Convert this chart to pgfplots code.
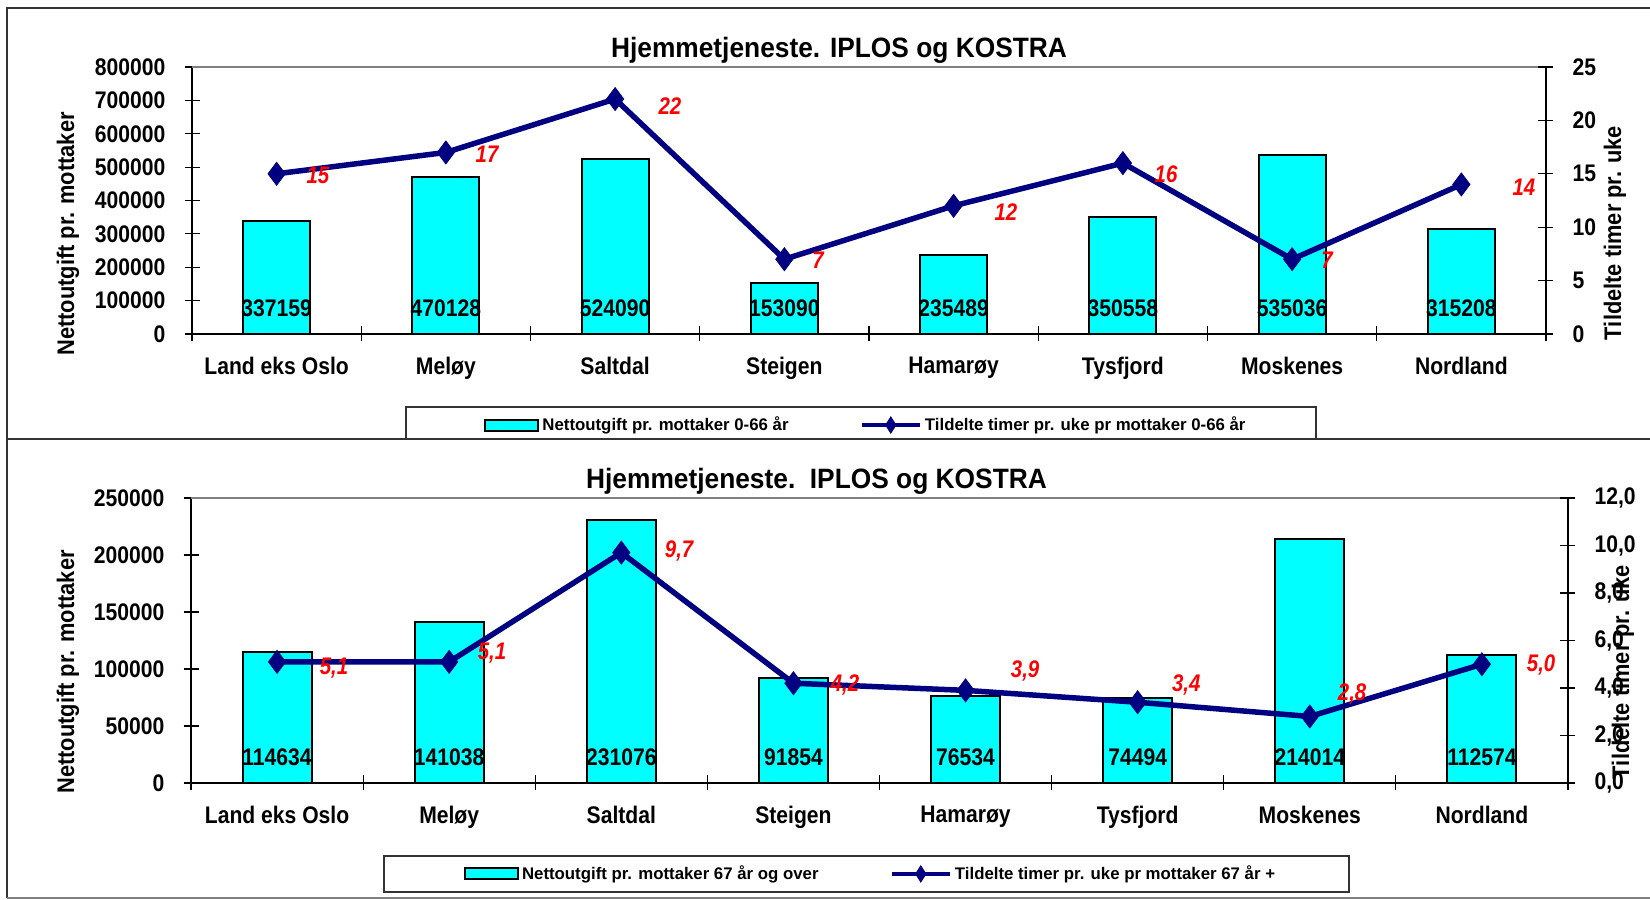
\documentclass[border=0pt]{standalone}
\usepackage{fontspec}
\setmainfont{Liberation Sans}
\newfontfamily\tickfont{Liberation Sans}[FakeStretch=0.88]
\newfontfamily\labfont{Liberation Sans}[FakeStretch=0.91]
\newfontfamily\titfont{Liberation Sans}[FakeStretch=0.94]
\newfontfamily\redfont{Liberation Sans}[FakeStretch=0.85]
\usepackage{pgfplots}
\pgfplotsset{compat=1.18}
\usepackage{pgfplotstable}
\definecolor{navyc}{RGB}{0,0,128}
\definecolor{cyanc}{RGB}{0,255,255}
\definecolor{redc}{RGB}{255,0,0}
\definecolor{frameg}{RGB}{128,128,128}

\pgfplotstableread{
x bar line lbl lx ly
0 337159 15 15 0.244 14.89
1 470128 17 17 1.243 16.85
2 524090 22 22 2.324 21.35
3 153090 7 7 3.199 6.93
4 235489 12 12 4.309 11.42
5 350558 16 16 5.255 14.98
6 535036 7 7 6.206 6.93
7 315208 14 14 7.370 13.76
}\topdata

\pgfplotstableread{
x bar line lbl lx ly
0 114634 5.1 5,1 0.331 4.84
1 141038 5.1 5,1 1.249 5.47
2 231076 9.7 9,7 2.336 9.77
3 91854 4.2 4,2 3.300 4.13
4 76534 3.9 3,9 4.346 4.72
5 74494 3.4 3,4 5.282 4.13
6 214014 2.8 2,8 6.246 3.75
7 112574 5.0 5,0 7.344 4.97
}\botdata

\newcommand\tickf{\tickfont\bfseries\fontsize{12}{14}\selectfont}
\newcommand\labf{\labfont\bfseries\fontsize{12}{14}\selectfont}
\newcommand\titf{\titfont\bfseries\fontsize{14}{16}\selectfont}
\newcommand\redf{\redfont\bfseries\itshape\fontsize{12}{14}\selectfont}
\newcommand\legf{\bfseries\fontsize{8.4}{10}\selectfont}

\pgfplotsset{
  mybase/.style={
    anchor=south west, scale only axis, xmin=-0.5, xmax=7.5, clip=false,
    scaled y ticks=false,
    tick align=center, major tick length=7.5pt,
    tick style={black, line width=0.6pt},
    axis line style={black, line width=0.6pt},
    ticklabel style={font=\tickf},
  },
  myleft/.style={
    mybase,
    axis y line*=left, axis x line*=bottom,
    xtick={-0.5,0.5,1.5,2.5,3.5,4.5,5.5,6.5,7.5},
    xticklabels={},
    extra x ticks={0,1,2,3,4,5,6,7},
    extra x tick labels={Land eks Oslo,Meløy,Saltdal,Steigen,Hamarøy,Tysfjord,Moskenes,Nordland},
    extra x tick style={major tick length=0pt, tick label style={yshift=-8pt}},
    yticklabel style={anchor=east, xshift=-6pt},
  },
  myright/.style={
    mybase,
    axis y line*=right, axis x line=none,
    yticklabel style={anchor=west, xshift=6pt},
    legend columns=2,
    legend style={draw=none, fill=none, font=\legf, inner sep=0pt, row sep=0pt,
      nodes={inner sep=1.5pt, anchor=west},
      /tikz/every even column/.append style={column sep=34pt}},
  },
  barlbl/.style={draw=none, mark=none, nodes near coords, point meta=explicit symbolic,
    every node near coord/.style={anchor=center, inner sep=0pt, font=\tickf, text=black}},
  redlbl/.style={draw=none, mark=none, nodes near coords, point meta=explicit symbolic, forget plot,
    every node near coord/.style={anchor=center, inner sep=0pt, font=\redf, text=redc}},
  lineplot/.style={navyc, line width=2.75pt, mark=diamond*, mark size=5.75pt,
    mark options={solid, fill=navyc, draw=navyc, line width=0.4pt},
    legend image code/.code={
      \draw[navyc, line width=2.2pt] (0pt,0pt) -- (29pt,0pt);
      \fill[navyc] (14.5pt,1.9pt) -- (15.7pt,0pt) -- (14.5pt,-1.9pt) -- (13.3pt,0pt) -- cycle;}},
}

\begin{document}
\begin{tikzpicture}
\path[use as bounding box] (0,0) rectangle (825pt,450pt);
% frames
\draw[black!80, line width=0.6pt] (825pt,446pt) -- (3.5pt,446pt) -- (3.5pt,1pt);
\draw[black!80, line width=0.6pt] (3.5pt,230.5pt) -- (825pt,230.5pt);
\draw[frameg, line width=0.6pt] (3.5pt,1pt) -- (825pt,1pt);
\draw[black!80, line width=0.6pt] (203pt,230.5pt) rectangle (658pt,246.5pt);
\draw[black!80, line width=0.6pt] (192pt,4pt) rectangle (674.5pt,22pt);
% titles
\node[anchor=base, inner sep=0pt, font=\titf] at (419.5pt,421pt) {Hjemmetjeneste. IPLOS og KOSTRA};
\node[anchor=base, inner sep=0pt, font=\titf] at (408.25pt,205.5pt) {Hjemmetjeneste.\ \ IPLOS og KOSTRA};
% axis labels
\node[rotate=90, inner sep=0pt, font=\labf] at (34pt,333pt) {Nettoutgift pr. mottaker};
\node[rotate=90, inner sep=0pt, font=\labf] at (807.5pt,333.5pt) {Tildelte timer pr. uke};
\node[rotate=90, inner sep=0pt, font=\labf] at (34pt,114pt) {Nettoutgift pr. mottaker};
\node[rotate=90, inner sep=0pt, font=\labf] at (811.5pt,114pt) {Tildelte timer pr. uke};

% ---------- top chart ----------
\begin{axis}[myleft, at={(96pt,283pt)}, width=677pt, height=133.5pt,
  ymin=0, ymax=800000,
  ytick={0,100000,200000,300000,400000,500000,600000,700000,800000},
  yticklabels={0,100000,200000,300000,400000,500000,600000,700000,800000}]
\addplot[ybar, bar width=33.5pt, bar shift=0pt, fill=cyanc, draw=black, line width=1pt] table[x=x,y=bar]{\topdata};
\addplot[barlbl] table[x=x, y expr=78000, meta=bar]{\topdata};
\draw[frameg, line width=0.8pt] (rel axis cs:0,1) -- (rel axis cs:1,1);
\end{axis}
\begin{axis}[myright, at={(96pt,283pt)}, width=677pt, height=133.5pt,
  ymin=0, ymax=25, ytick={0,5,10,15,20,25}, yticklabels={0,5,10,15,20,25},
  legend style={at={(0.2157,-0.341)}, anchor=west}]
\addlegendimage{legend image code/.code={\draw[fill=cyanc, draw=black, line width=1pt] (0pt,-2.75pt) rectangle (26.5pt,2.75pt);}}
\addlegendentry{Nettoutgift pr. mottaker 0-66 år}
\addplot[lineplot] table[x=x,y=line]{\topdata};
\addlegendentry{Tildelte timer pr. uke pr mottaker 0-66 år}
\addplot[redlbl] table[x=lx, y=ly, meta=lbl]{\topdata};
\end{axis}

% ---------- bottom chart ----------
\begin{axis}[myleft, at={(95.5pt,58.5pt)}, width=688.5pt, height=142.5pt,
  ymin=0, ymax=250000,
  ytick={0,50000,100000,150000,200000,250000},
  yticklabels={0,50000,100000,150000,200000,250000}]
\addplot[ybar, bar width=34.5pt, bar shift=0pt, fill=cyanc, draw=black, line width=1pt] table[x=x,y=bar]{\botdata};
\addplot[barlbl] table[x=x, y expr=22800, meta=bar]{\botdata};
\draw[frameg, line width=0.8pt] (rel axis cs:0,1) -- (rel axis cs:1,1);
\end{axis}
\begin{axis}[myright, at={(95.5pt,58.5pt)}, width=688.5pt, height=142.5pt,
  ymin=0, ymax=12, ytick={0,2,4,6,8,10,12}, yticklabels={{0,0},{2,0},{4,0},{6,0},{8,0},{10,0},{12,0}},
  legend style={at={(0.198,-0.319)}, anchor=west}]
\addlegendimage{legend image code/.code={\draw[fill=cyanc, draw=black, line width=1pt] (0pt,-2.75pt) rectangle (26.5pt,2.75pt);}}
\addlegendentry{Nettoutgift pr. mottaker 67 år og over}
\addplot[lineplot] table[x=x,y=line]{\botdata};
\addlegendentry{Tildelte timer pr. uke pr mottaker 67 år +}
\addplot[redlbl] table[x=lx, y=ly, meta=lbl]{\botdata};
\end{axis}
\end{tikzpicture}
\end{document}
